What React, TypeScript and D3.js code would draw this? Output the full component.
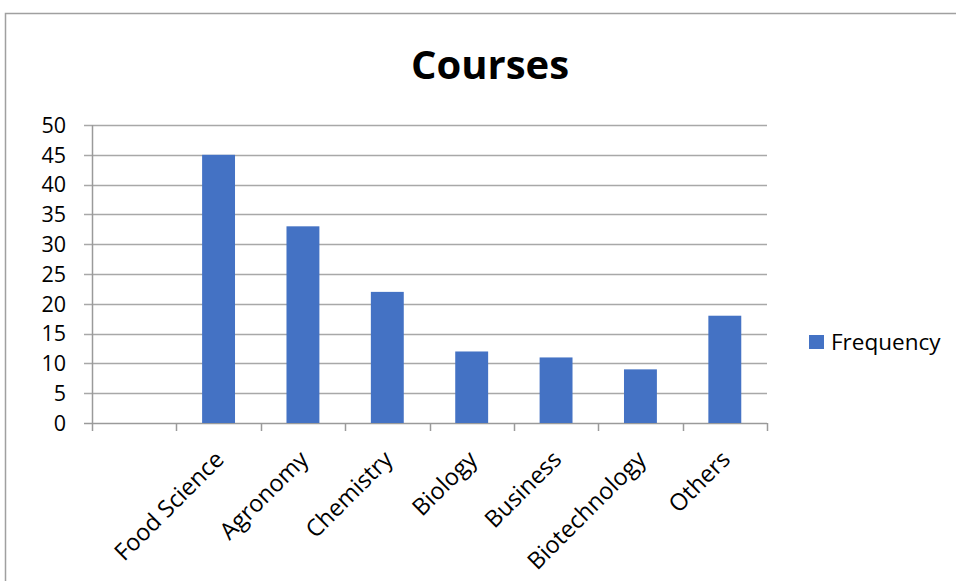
import { useEffect, useRef } from "react"
import * as d3 from "d3"

// first slot is an empty category in the source sheet
const categories = ["", "Food Science", "Agronomy", "Chemistry", "Biology", "Business", "Biotechnology", "Others"]
const frequency = [null, 45, 33, 22, 12, 11, 9, 18]
const yTicks = [0, 5, 10, 15, 20, 25, 30, 35, 40, 45, 50]
const seriesName = "Frequency"

export default function App() {
  const svgRef = useRef<SVGSVGElement>(null)

  useEffect(() => {
    if (!svgRef.current) return
    const svg = d3.select(svgRef.current)
    svg.selectAll("*").remove()

    const width = 956
    const height = 581
    const font = "'Open Sans', sans-serif"
    const plot = { left: 92, right: 767, top: 125, bottom: 423 }

    // chart border
    svg
      .append("rect")
      .attr("x", 5.5)
      .attr("y", 13.5)
      .attr("width", width + 10)
      .attr("height", height + 10)
      .attr("fill", "#fff")
      .attr("stroke", "#a0a0a0")
      .attr("stroke-width", 1.5)

    const x = d3.scaleBand().domain(categories).range([plot.left, plot.right]).paddingInner(0).paddingOuter(0)
    const y = d3.scaleLinear().domain([0, 50]).range([plot.bottom, plot.top])

    // title
    svg
      .append("text")
      .attr("x", 490)
      .attr("y", 79)
      .attr("text-anchor", "middle")
      .attr("font-family", font)
      .attr("font-size", 40)
      .attr("font-weight", "bold")
      .attr("fill", "#000")
      .text("Courses")

    // gridlines + y labels
    const grid = svg.append("g")
    yTicks.forEach((t) => {
      grid
        .append("line")
        .attr("x1", plot.left - 8)
        .attr("x2", plot.right)
        .attr("y1", Math.round(y(t)) + 0.5)
        .attr("y2", Math.round(y(t)) + 0.5)
        .attr("stroke", t === 0 ? "#9a9a9a" : "#a8a8a8")
        .attr("stroke-width", 1.5)
      grid
        .append("text")
        .attr("x", 66)
        .attr("y", y(t))
        .attr("dy", "0.36em")
        .attr("text-anchor", "end")
        .attr("font-family", font)
        .attr("font-size", 21.5)
        .attr("fill", "#000")
        .text(t)
    })

    // y axis line
    svg
      .append("line")
      .attr("x1", plot.left + 0.5)
      .attr("x2", plot.left + 0.5)
      .attr("y1", plot.top)
      .attr("y2", plot.bottom)
      .attr("stroke", "#9a9a9a")
      .attr("stroke-width", 1.5)

    // x ticks
    const tickPositions = categories.map((c) => x(c) as number).concat([plot.right])
    tickPositions.forEach((p) => {
      svg
        .append("line")
        .attr("x1", Math.round(p) + 0.5)
        .attr("x2", Math.round(p) + 0.5)
        .attr("y1", plot.bottom)
        .attr("y2", plot.bottom + 8)
        .attr("stroke", "#9a9a9a")
        .attr("stroke-width", 1.5)
    })

    // bars
    const barW = x.bandwidth() * 0.39
    categories.forEach((c, i) => {
      const v = frequency[i]
      if (v == null) return
      const cx = (x(c) as number) + x.bandwidth() / 2
      svg
        .append("rect")
        .attr("x", cx - barW / 2)
        .attr("y", y(v))
        .attr("width", barW)
        .attr("height", y(0) - y(v))
        .attr("fill", "#4472c4")
    })

    // rotated category labels
    categories.forEach((c) => {
      if (!c) return
      const cx = (x(c) as number) + x.bandwidth() / 2
      svg
        .append("text")
        .attr("transform", `translate(${cx + 1},${plot.bottom + 32}) rotate(-45)`)
        .attr("text-anchor", "end")
        .attr("dy", "0.35em")
        .attr("font-family", font)
        .attr("font-size", 23.5)
        .attr("fill", "#000")
        .text(c)
    })

    // legend
    const legend = svg.append("g").attr("transform", "translate(809,335)")
    legend.append("rect").attr("width", 15).attr("height", 14).attr("fill", "#4472c4")
    legend
      .append("text")
      .attr("x", 22)
      .attr("y", 7)
      .attr("dy", "0.36em")
      .attr("font-family", font)
      .attr("font-size", 22.5)
      .attr("fill", "#000")
      .text(seriesName)
  }, [])

  return (
    <svg
      ref={svgRef}
      width={956}
      height={581}
      style={{ position: "absolute", left: 0, top: 0, background: "#fff" }}
    />
  )
}
